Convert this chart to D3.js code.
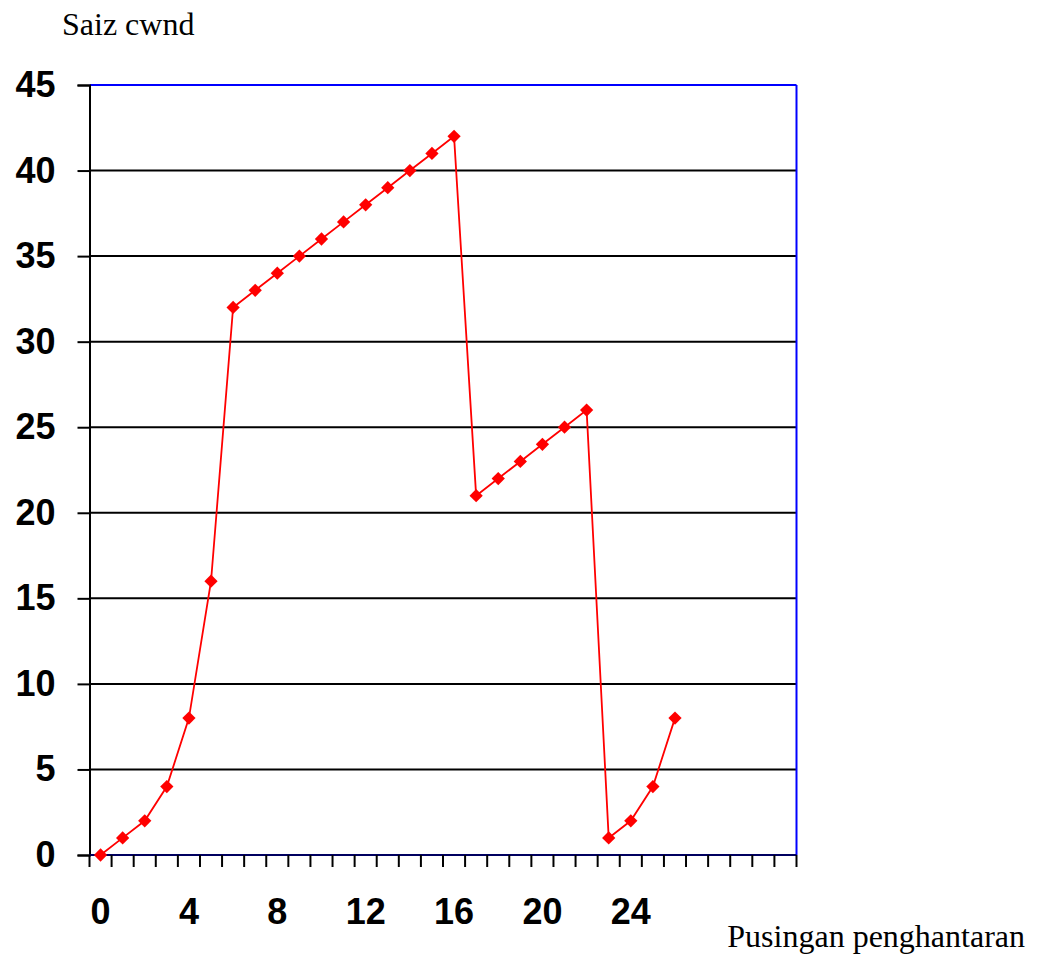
<!DOCTYPE html>
<html><head><meta charset="utf-8">
<script src="https://cdn.jsdelivr.net/npm/d3@7"></script>
<style>body{margin:0;background:#fff}svg{display:block}</style>
</head><body>
<svg id="c" width="1037" height="954"></svg>
<script>
const rounds = d3.range(0, 32);
const cwnd = [0,1,2,4,8,16,32,33,34,35,36,37,38,39,40,41,42,21,22,23,24,25,26,1,2,4,8];
const yTicks = [0,5,10,15,20,25,30,35,40,45];
const xLabels = [0,4,8,12,16,20,24];
const yTitle = "Saiz cwnd";
const xTitle = "Pusingan penghantaran";

const svg = d3.select("#c");
const L = 89.5, R = 796.5, T = 85, B = 855;
const x = d3.scaleBand().domain(rounds).range([L, R]);
const y = d3.scaleLinear().domain([0, 45]).range([B, T]);

// gridlines
svg.append("g").selectAll("line").data(yTicks.filter(d => d > 0 && d < 45)).join("line")
  .attr("x1", L).attr("x2", R).attr("y1", d => y(d)).attr("y2", d => y(d))
  .attr("stroke", "#000").attr("stroke-width", 2);

// top & right border
svg.append("line").attr("x1", L).attr("x2", R).attr("y1", T).attr("y2", T).attr("stroke", "#0000ff").attr("stroke-width", 2);
svg.append("line").attr("x1", R).attr("x2", R).attr("y1", T).attr("y2", B).attr("stroke", "#0000ff").attr("stroke-width", 2);

// y axis
const yAxis = svg.append("g").attr("transform", `translate(${L},0)`)
  .call(d3.axisLeft(y).tickValues(yTicks).tickSize(12).tickPadding(22));
yAxis.select(".domain").attr("stroke", "#000").attr("stroke-width", 2);
yAxis.selectAll(".tick line").attr("stroke", "#000").attr("stroke-width", 2);
yAxis.selectAll("text").attr("font-family", "Liberation Sans, Arial, sans-serif")
  .attr("font-weight", "bold").attr("font-size", 36).attr("fill", "#000");

// x axis
const xAxis = svg.append("g").attr("transform", `translate(0,${B})`)
  .call(d3.axisBottom(x).tickValues(xLabels).tickSize(0).tickPadding(43));
xAxis.select(".domain").remove();
xAxis.selectAll("text").attr("font-family", "Liberation Sans, Arial, sans-serif")
  .attr("font-weight", "bold").attr("font-size", 36).attr("fill", "#000");
svg.append("line").attr("x1", L).attr("x2", R).attr("y1", B).attr("y2", B).attr("stroke", "#000060").attr("stroke-width", 2);
// category tick marks
const bounds = rounds.map(d => x(d)).concat([R]);
svg.append("g").selectAll("line").data(bounds).join("line")
  .attr("x1", d => d).attr("x2", d => d).attr("y1", B).attr("y2", B + 12)
  .attr("stroke", "#000").attr("stroke-width", 2);

// line
const cx = (d, i) => x(i) + x.bandwidth() / 2;
svg.append("path").datum(cwnd)
  .attr("d", d3.line().x(cx).y(d => y(d)))
  .attr("fill", "none").attr("stroke", "#ff0000").attr("stroke-width", 1.8);
svg.append("g").selectAll("path").data(cwnd).join("path")
  .attr("d", d3.symbol(d3.symbolSquare, 88))
  .attr("transform", (d, i) => `translate(${cx(d, i)},${y(d)}) rotate(45)`)
  .attr("fill", "#ff0000");

// titles
svg.append("text").attr("x", 62).attr("y", 35).text(yTitle)
  .attr("font-family", "Liberation Serif, Times New Roman, serif").attr("font-size", 32).attr("fill", "#000");
svg.append("text").attr("x", 1025).attr("y", 947).attr("text-anchor", "end").text(xTitle)
  .attr("font-family", "Liberation Serif, Times New Roman, serif").attr("font-size", 32).attr("fill", "#000");
</script>
</body></html>
